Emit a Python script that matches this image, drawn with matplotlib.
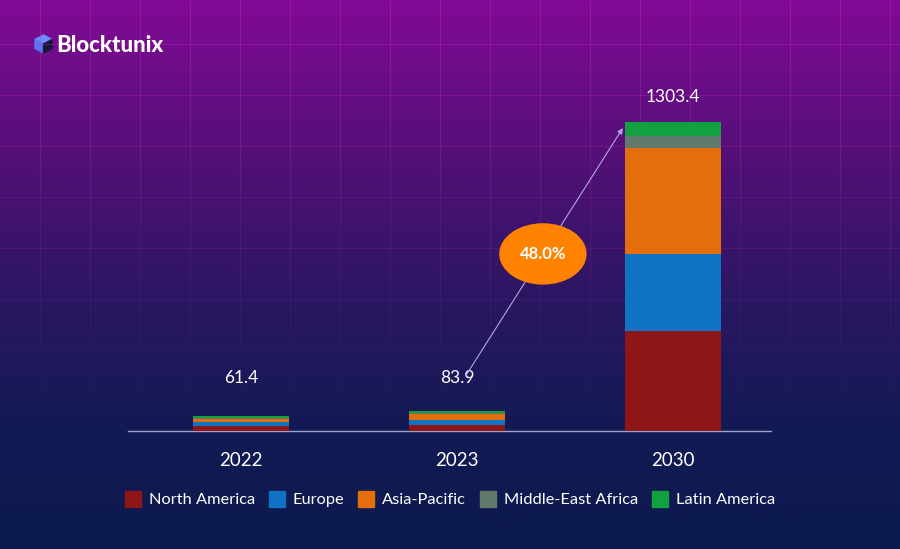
import numpy as np
import matplotlib.pyplot as plt
from matplotlib.colors import LinearSegmentedColormap
from matplotlib.patches import Ellipse, Polygon, Patch

years = ["2022", "2023", "2030"]
regions = ["North America", "Europe", "Asia-Pacific", "Middle-East Africa", "Latin America"]
north_america = [20.5, 24.9, 421.8]
europe = [17.5, 22.7, 324.8]
asia_pacific = [14.6, 24.9, 447.1]
middle_east_africa = [1.2, 1.4, 50.6]
latin_america = [7.6, 10.0, 59.1]
totals = [61.4, 83.9, 1303.4]
cagr = "48.0%"

colors = ["#8e1618", "#0f72c2", "#e36e0b", "#627a6c", "#12a040"]
font = "Lato"

fig = plt.figure(figsize=(9, 5.49), dpi=100)

# background gradient
bg = fig.add_axes([0, 0, 1, 1], zorder=-10)
cmap = LinearSegmentedColormap.from_list(
    "bg", [(0, "#820a95"), (0.33, "#4c1174"), (0.55, "#2a1762"), (0.78, "#131a55"), (1, "#0c1a4d")])
grad = np.linspace(0, 1, 256).reshape(-1, 1)
bg.imshow(grad, aspect="auto", cmap=cmap, extent=[0, 900, 549, 0])
# faint grid that fades downward
for x in np.arange(40, 900, 50):
    for y0 in range(0, 420, 10):
        a = 0.35 * max(0, 1 - y0 / 420)
        bg.plot([x, x], [y0, y0 + 10], color="#d030c0", lw=0.8, alpha=a, solid_capstyle="butt")
for y in np.arange(44, 420, 51):
    a = 0.35 * max(0, 1 - y / 420)
    bg.plot([0, 900], [y, y], color="#d030c0", lw=0.8, alpha=a)
bg.set_xlim(0, 900)
bg.set_ylim(549, 0)
bg.axis("off")

# logo
cube_top = [(43.5, 35), (52, 39.5), (43.5, 44), (35, 39.5)]
cube_left = [(35, 39.5), (43.5, 44), (43.5, 53), (35, 48.5)]
cube_right = [(43.5, 44), (52, 39.5), (52, 48.5), (43.5, 53)]
bg.add_patch(Polygon(cube_top, color="#6f8cff"))
bg.add_patch(Polygon(cube_left, color="#5a78f5"))
bg.add_patch(Polygon(cube_right, color="#17173a"))
bg.text(56, 45, "Blocktunix", color="white", fontsize=16, fontweight="black",
        family=font, va="center", ha="left")

ax = fig.add_axes([128 / 900, 1 - 431 / 549, 643 / 900, 371 / 549])
ax.patch.set_alpha(0)
x = np.arange(len(years))
bottom = np.zeros(len(years))
series = [north_america, europe, asia_pacific, middle_east_africa, latin_america]
for vals, c, name in zip(series, colors, regions):
    ax.bar(x, vals, 0.444, bottom=bottom, color=c, label=name, zorder=3)
    bottom += np.array(vals)

for xi, t in zip(x, totals):
    ax.text(xi, max(t, 120) + 105, f"{t}", color="white", fontsize=12.5,
            family=font, ha="center", va="center")

ax.set_xlim(-0.523, 2.454)
ax.set_ylim(0, 1565)
ax.set_xticks(x, years)
ax.tick_params(axis="x", length=0, pad=15, labelsize=13.5, labelcolor="white")
for lab in ax.get_xticklabels():
    lab.set_family(font)
ax.set_yticks([])
for s in ["top", "right", "left"]:
    ax.spines[s].set_visible(False)
ax.spines["bottom"].set_color("#9aa3cc")
ax.spines["bottom"].set_linewidth(1)

# growth arrow and badge
ax.annotate("", xy=(1.768, 1278), xytext=(1.04, 232),
            arrowprops=dict(arrowstyle="-|>", color="#b8a2e0", lw=0.8,
                            mutation_scale=8, shrinkA=0, shrinkB=0), zorder=4)
ax.add_patch(Ellipse((1.398, 747), 0.398, 253, color="#ff8300", zorder=5))
ax.text(1.398, 747, cagr, color="white", fontsize=12, fontweight="bold",
        family=font, ha="center", va="center", zorder=6)

handles = [Patch(color=c) for c in colors]
leg = fig.legend(handles, regions, loc="center", bbox_to_anchor=(450 / 900, 1 - 499 / 549),
                 ncol=5, frameon=False, handlelength=0.95, handleheight=1.1,
                 handletextpad=0.5, columnspacing=0.85,
                 prop={"family": font, "size": 11.8})
for t in leg.get_texts():
    t.set_color("white")

fig.savefig("out.png", dpi=100)
